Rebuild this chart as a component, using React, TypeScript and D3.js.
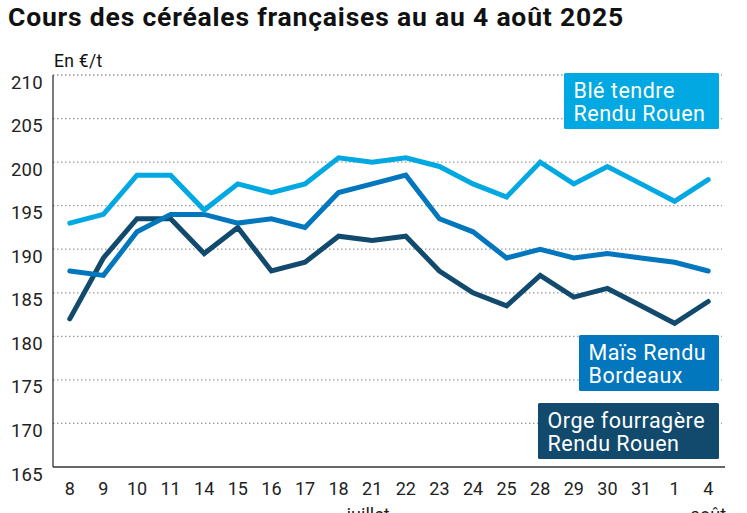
import { useMemo } from 'react';
import * as d3 from 'd3';

// --- Data ---
const days = ['8', '9', '10', '11', '14', '15', '16', '17', '18', '21', '22', '23', '24', '25', '28', '29', '30', '31', '1', '4'];
const ble = [193, 194, 198.5, 198.5, 194.5, 197.5, 196.5, 197.5, 200.5, 200, 200.5, 199.5, 197.5, 196, 200, 197.5, 199.5, 197.5, 195.5, 198];
const mais = [187.5, 187, 192, 194, 194, 193, 193.5, 192.5, 196.5, 197.5, 198.5, 193.5, 192, 189, 190, 189, 189.5, 189, 188.5, 187.5];
const orge = [182, 189, 193.5, 193.5, 189.5, 192.5, 187.5, 188.5, 191.5, 191, 191.5, 187.5, 185, 183.5, 187, 184.5, 185.5, 183.5, 181.5, 184];
const yTicks = [165, 170, 175, 180, 185, 190, 195, 200, 205, 210];
const months = [{ label: 'juillet', at: '21' }, { label: 'août', at: '4' }];

const series = [
    { name: 'orge', values: orge, color: '#114a6c', label: ['Orge fourragère', 'Rendu Rouen'] },
    { name: 'mais', values: mais, color: '#0377bd', label: ['Maïs Rendu', 'Bordeaux'] },
    { name: 'ble', values: ble, color: '#02a8e1', label: ['Blé tendre', 'Rendu Rouen'] },
];

const W = 747;
const H = 513;
const M = { left: 53, right: 725, top: 75, bottom: 467 };
const FONT = 'Roboto, "Noto Sans", sans-serif';

// legend boxes: [x0, y0, x1, y1] in px
const boxes: Record<string, number[]> = {
    ble: [564, 73, 719, 129],
    mais: [579, 335, 719, 391],
    orge: [538, 403, 719, 459],
};

export default function App() {
    const x = useMemo(() => d3.scalePoint<string>().domain(days).range([M.left, M.right]).padding(0.5), []);
    const y = useMemo(() => d3.scaleLinear().domain([165, 210]).range([M.bottom, M.top]), []);

    const line = d3.line<number>()
        .x((_, i) => x(days[i]) as number)
        .y(d => y(d));

    return (
        <svg width={W} height={H} style={{ position: 'absolute', left: 0, top: 0, background: '#fff' }}>
            <text x={8} y={26} fontFamily={FONT} fontWeight={700} fontSize={26.5} letterSpacing={0.8} fill="#111">
                Cours des céréales françaises au au 4 août 2025
            </text>
            <text x={54} y={67} fontFamily={FONT} fontSize={17.5} letterSpacing={0.3} fill="#111">En €/t</text>

            {/* grid */}
            {yTicks.filter(t => t > 165).map(t => (
                <line key={t} x1={M.left} x2={722} y1={y(t)} y2={y(t)}
                      stroke="#9a9a9a" strokeWidth={1.3} strokeDasharray="1.5 2.5" />
            ))}
            {yTicks.map(t => (
                <text key={t} x={43} y={y(t) + 13.5} textAnchor="end"
                      fontFamily={FONT} fontSize={18.5} letterSpacing={0.3} fill="#222">{t}</text>
            ))}

            {/* axes */}
            <line x1={M.left} x2={M.left} y1={M.top} y2={M.bottom} stroke="#333" strokeWidth={1.3} />
            <line x1={M.left} x2={M.right} y1={M.bottom} y2={M.bottom} stroke="#333" strokeWidth={1.3} />

            {days.map(d => (
                <text key={d} x={x(d)} y={494.5} textAnchor="middle"
                      fontFamily={FONT} fontSize={18} fill="#222">{d}</text>
            ))}
            {months.map(m => (
                <text key={m.label} x={(x(m.at) as number) + (m.label === 'juillet' ? -4 : 0)} y={521} textAnchor="middle"
                      fontFamily={FONT} fontSize={18} fill="#222">{m.label}</text>
            ))}

            {/* lines */}
            {series.map(s => (
                <path key={s.name} d={line(s.values) || ''} fill="none" stroke={s.color}
                      strokeWidth={5} strokeLinejoin="miter" strokeLinecap="round" />
            ))}

            {/* legend boxes */}
            {series.map(s => {
                const [x0, y0, x1, y1] = boxes[s.name];
                return (
                    <g key={s.name}>
                        <rect x={x0} y={y0} width={x1 - x0} height={y1 - y0} rx={1.5} fill={s.color} />
                        {s.label.map((l, i) => (
                            <text key={i} x={x0 + 9.5} y={y0 + 25 + i * 23} fontFamily={FONT}
                                  fontSize={21.5} letterSpacing={0.5} fill="#fff">{l}</text>
                        ))}
                    </g>
                );
            })}
        </svg>
    );
}
